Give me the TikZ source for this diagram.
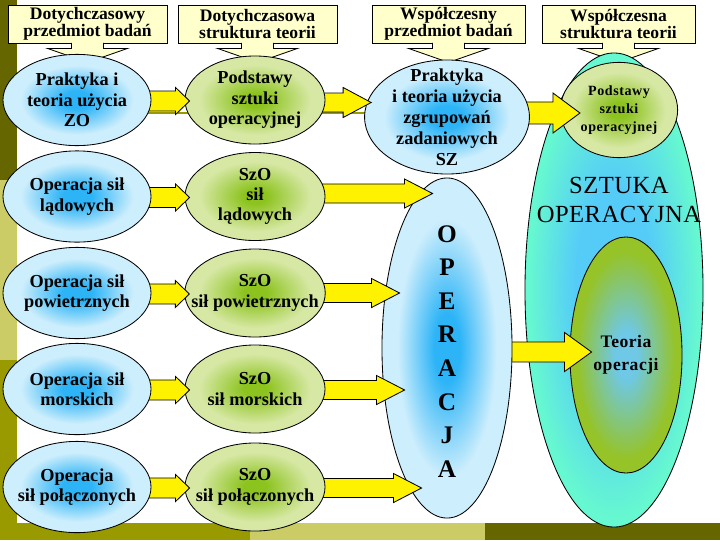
\documentclass[tikz,border=0pt]{standalone}
\usepackage{fontspec}
\setmainfont{Liberation Serif}
\usetikzlibrary{shapes.geometric,calc}

\definecolor{darkolive}{HTML}{666600}
\definecolor{barolive}{HTML}{999900}
\definecolor{barkhaki}{HTML}{CCCC66}
\definecolor{notepaper}{HTML}{FFFFCC}
\definecolor{skycore}{HTML}{2DB4F7}
\definecolor{skyrim}{HTML}{CDEEFC}
\definecolor{leafcore}{HTML}{8CC31E}
\definecolor{leafrim}{HTML}{D7E8A5}
\definecolor{seacore}{HTML}{55CCF8}
\definecolor{searim}{HTML}{66F8D0}
\definecolor{mosscore}{HTML}{6EC8E6}
\definecolor{mossrim}{HTML}{96C328}

\pgfdeclareradialshading{skyball}{\pgfpoint{0bp}{0bp}}{color(0bp)=(skycore); color(5bp)=(skycore); color(19bp)=(skyrim); color(50bp)=(skyrim)}
\pgfdeclareradialshading{leafball}{\pgfpoint{0bp}{0bp}}{color(0bp)=(leafcore); color(4bp)=(leafcore); color(20bp)=(leafrim); color(50bp)=(leafrim)}
\pgfdeclareradialshading{seaball}{\pgfpoint{0bp}{0bp}}{color(0bp)=(seacore); color(11bp)=(seacore); color(24bp)=(searim); color(50bp)=(searim)}
\pgfdeclareradialshading{mossball}{\pgfpoint{0bp}{0bp}}{color(0bp)=(mosscore); color(5bp)=(mosscore); color(22bp)=(mossrim); color(50bp)=(mossrim)}

\pgfdeclarelayer{ground}
\pgfdeclarelayer{col4}
\pgfdeclarelayer{arr3}
\pgfdeclarelayer{col3}
\pgfdeclarelayer{arr2}
\pgfdeclarelayer{col2}
\pgfdeclarelayer{arr1}
\pgfsetlayers{ground,col4,arr3,col3,arr2,col2,arr1,main}

% block arrow: source node, tip, body half, head half, head length
\newcommand{\yarrow}[5]{%
  \filldraw[yarr] ($(#1 |- #2)+(0,-#3)$) -- ($(#2)+(-#5,-#3)$) -- ($(#2)+(-#5,-#4)$) -- (#2)
    -- ($(#2)+(-#5,#4)$) -- ($(#2)+(-#5,#3)$) -- ($(#1 |- #2)+(0,#3)$) -- cycle;}

\begin{document}
\begin{tikzpicture}[x=0.025cm, y=-0.025cm,
  header/.style={rectangle, draw, fill=notepaper, line width=0.6pt, minimum height=0.95cm, inner sep=0pt, align=center, font=\fontsize{12.5}{11}\selectfont\bfseries},
  notefill/.style={fill=notepaper, draw=black, line width=0.6pt},
  blob/.style={ellipse, draw, shade, line width=0.6pt, inner sep=-10pt, align=center, font=\fontsize{13}{14.5}\selectfont\bfseries},
  oldblob/.style={blob, shading=skyball, minimum width=3.7cm, minimum height=2.28cm},
  theoblob/.style={blob, shading=leafball, minimum width=3.5cm, minimum height=2.2cm},
  yarr/.style={fill=yellow, draw=black, line width=0.6pt},
  opletter/.style={anchor=base, font=\fontsize{18}{18}\selectfont\bfseries}
]
\useasboundingbox (0,0) rectangle (720,540);

\begin{pgfonlayer}{ground}
  \fill[white] (0,0) rectangle (720,540);
  \fill[darkolive] (0,0) rectangle (17,180);
  \fill[barkhaki] (0,180) rectangle (17,360);
  \fill[barolive] (0,360) rectangle (17,540);
  \fill[barolive] (0,523) rectangle (250,540);
  \fill[barkhaki] (250,523) rectangle (485,540);
  \fill[darkolive] (485,523) rectangle (720,540);
  \draw[barolive, line width=2.1pt] (17,113) -- (545,113);
  % headers
  \node[header, minimum width=3.975cm] (h1) at (87.5,24) {Dotychczasowy\\przedmiot badań};
  \node[header, minimum width=3.975cm] (h2) at (257.5,24) {Dotychczasowa\\struktura teorii};
  \node[header, minimum width=3.825cm] (h3) at (448.5,24) {Współczesny\\przedmiot badań};
  \node[header, minimum width=3.825cm] (h4) at (618.5,24) {Współczesna\\struktura teorii};
  \foreach \h in {h1,h2,h3,h4}
    \filldraw[notefill] ($(\h.south)+(-16,-0.5)$) -- ++(0,5.5) -- ++(-24,0) -- ($(\h.south)+(0,19)$)
      -- ($(\h.south)+(40,5)$) -- ++(-24,0) -- ++(0,-5.5);
\end{pgfonlayer}

% present-day structure
\begin{pgfonlayer}{col4}
  \node[ellipse, draw, shade, shading=seaball, line width=0.6pt, inner sep=0pt, minimum width=4.45cm, minimum height=11.85cm] (sz) at (614,290) {};
  \node[align=center, font=\fontsize{17.5}{20.5}\selectfont\addfontfeatures{LetterSpace=2}] (szlabel) at (619,200) {SZTUKA\\OPERACYJNA};
  \node[blob, shading=leafball, minimum width=2.93cm, minimum height=2.38cm, font=\fontsize{10}{13}\selectfont\bfseries\addfontfeatures{LetterSpace=4}] (pso) at (619,110) {Podstawy\\sztuki\\operacyjnej};
  \node[blob, shading=mossball, minimum width=2.8cm, minimum height=5.9cm, font=\fontsize{12.5}{16.5}\selectfont\bfseries\addfontfeatures{LetterSpace=3}] (teo) at (626,355) {Teoria\\operacji};
\end{pgfonlayer}

% present-day subject
\begin{pgfonlayer}{col3}
  \node[blob, shading=skyball, minimum width=4.12cm, minimum height=2.85cm, font=\fontsize{13}{15}\selectfont\bfseries] (np) at (447,117) {Praktyka\\i teoria użycia\\zgrupowań\\zadaniowych\\SZ};
  \node[blob, shading=skyball, inner sep=0pt, minimum width=3.25cm, minimum height=8.5cm] (op) at (447,348) {};
  \foreach \l [count=\k] in {O,P,E,R,A,C,J,A}
    \node[opletter] (op\k) at (447,208.4+33.6*\k) {\l};
\end{pgfonlayer}

% former subject and structure
\foreach \i/\y/\old/\theo in {
    1/100/{Praktyka i\\teoria użycia\\ZO}/{Podstawy\\sztuki\\operacyjnej},
    2/196.5/{Operacja sił\\lądowych}/{SzO\\sił\\lądowych},
    3/293/{Operacja sił\\powietrznych}/{SzO\\sił powietrznych},
    4/389/{Operacja sił\\morskich}/{SzO\\sił morskich},
    5/487/{Operacja\\sił połączonych}/{SzO\\sił połączonych}}{
  \begin{pgfonlayer}{col2}
    \node[theoblob] (s\i) at (255,\y) {\theo};
  \end{pgfonlayer}
  \node[oldblob] (p\i) at (77,\y) {\old};
}

% arrows
\begin{pgfonlayer}{arr1}
  \foreach \i in {1,...,5}{
    \coordinate (tip) at ($(s\i.west)+(5,1)$);
    \yarrow{p\i}{tip}{10}{13.5}{14}
  }
\end{pgfonlayer}
\begin{pgfonlayer}{arr2}
  \coordinate (tip) at ($(s1.east -| np.west)+(7,2.5)$);
  \yarrow{s1}{tip}{9.5}{15}{28}
  \foreach \i/\dx/\dy in {2/51/-3, 3/18/0, 4/23/1, 5/40/1}{
    \coordinate (tip) at ($(s\i.east -| op.west)+(\dx,\dy)$);
    \yarrow{s\i}{tip}{9.5}{14.5}{28}
  }
\end{pgfonlayer}
\begin{pgfonlayer}{arr3}
  \coordinate (tip) at ($(pso.west)+(20,3)$);
  \yarrow{np}{tip}{11}{20}{27}
  \coordinate (tip) at ($(teo.west)+(22,-3)$);
  \yarrow{op}{tip}{10}{19.5}{27}
\end{pgfonlayer}
\end{tikzpicture}
\end{document}
